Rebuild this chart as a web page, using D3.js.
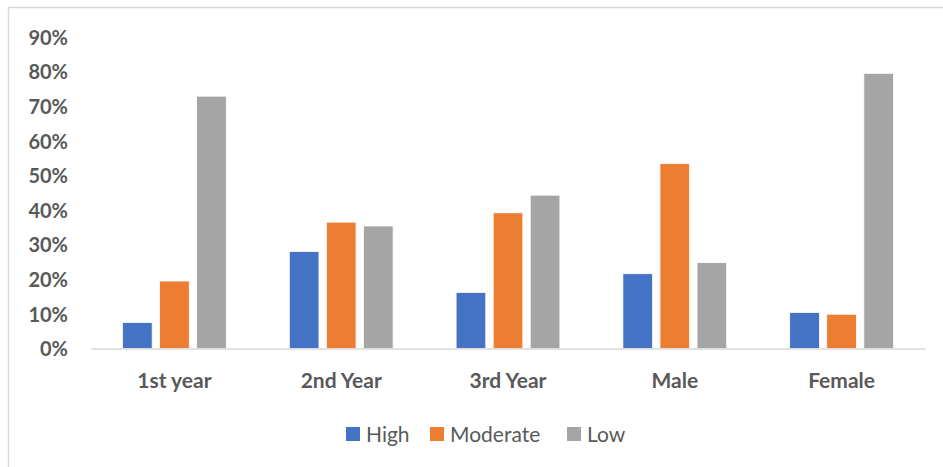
<!DOCTYPE html>
<html>
<head>
<meta charset="utf-8">
<script src="https://cdn.jsdelivr.net/npm/d3@7"></script>
<style>
  html, body { margin: 0; padding: 0; background: #fff; }
  svg { display: block; }
</style>
</head>
<body>
<svg id="chart" width="943" height="467"></svg>
<script>
// Categories, series and values
const categories = ["1st year", "2nd Year", "3rd Year", "Male", "Female"];
const seriesNames = ["High", "Moderate", "Low"];
const highValues = [0.075, 0.28, 0.162, 0.216, 0.104];
const moderateValues = [0.195, 0.365, 0.392, 0.534, 0.099];
const lowValues = [0.729, 0.354, 0.443, 0.248, 0.795];
const yTicks = [0, 0.1, 0.2, 0.3, 0.4, 0.5, 0.6, 0.7, 0.8, 0.9];
const seriesColors = ["#4472C4", "#ED7D31", "#A5A5A5"];

const seriesValues = [highValues, moderateValues, lowValues];
const rows = categories.map((c, i) => ({
  category: c,
  values: seriesNames.map((s, j) => ({ series: s, value: seriesValues[j][i] }))
}));

const svg = d3.select("#chart");
const W = 943, H = 467;
const plotLeft = 91, plotRight = 925, plotTop = 37, plotBottom = 348.5;

// Chart frame (top and left edges)
svg.append("path")
  .attr("d", `M8.5,${H} L8.5,7.5 L${W},7.5`)
  .attr("fill", "none")
  .attr("stroke", "#d9d9d9")
  .attr("stroke-width", 1.5);

const x0 = d3.scaleBand().domain(categories).range([plotLeft, plotRight]).paddingInner(0).paddingOuter(0);
const x1 = d3.scaleBand().domain(seriesNames).range([0, x0.bandwidth()]).paddingInner(0.2).paddingOuter(0.85);
const y = d3.scaleLinear().domain([0, 0.9]).range([plotBottom, plotTop]);

const fontFamily = "Lato, 'Open Sans', sans-serif";
const textColor = "#595959";

// Y axis labels only
const yAxis = d3.axisLeft(y).tickValues(yTicks).tickFormat(d3.format(".0%")).tickSize(0).tickPadding(0);
const yg = svg.append("g").attr("transform", `translate(68,0)`).call(yAxis);
yg.select(".domain").remove();
yg.selectAll("text")
  .attr("font-family", fontFamily)
  .attr("font-weight", "bold")
  .attr("font-size", 20)
  .attr("fill", textColor)
  .attr("dy", "0.36em");

// Bars
const groups = svg.append("g").selectAll("g")
  .data(rows)
  .join("g")
  .attr("transform", d => `translate(${x0(d.category)},0)`);

groups.selectAll("rect")
  .data(d => d.values)
  .join("rect")
  .attr("x", d => x1(d.series))
  .attr("width", x1.bandwidth())
  .attr("y", d => y(d.value))
  .attr("height", d => y(0) - y(d.value))
  .attr("fill", (d, i) => seriesColors[i])
  .attr("stroke", "#ffffff")
  .attr("stroke-width", 0.75);

// X axis baseline and category labels
const xAxis = d3.axisBottom(x0).tickSize(0).tickPadding(0);
const xg = svg.append("g").attr("transform", `translate(0,${plotBottom})`).call(xAxis);
xg.select(".domain")
  .attr("stroke", "#d9d9d9")
  .attr("stroke-width", 1.5);
xg.selectAll("text")
  .attr("font-family", fontFamily)
  .attr("font-weight", "bold")
  .attr("font-size", 21)
  .attr("fill", textColor)
  .attr("dy", 0)
  .attr("y", 39);

// Legend
const legendItems = [
  { name: "High", x: 346 },
  { name: "Moderate", x: 430 },
  { name: "Low", x: 567 }
];
const legend = svg.append("g").selectAll("g")
  .data(legendItems)
  .join("g")
  .attr("transform", d => `translate(${d.x},427)`);
legend.append("rect")
  .attr("width", 14)
  .attr("height", 14)
  .attr("fill", (d, i) => seriesColors[i]);
legend.append("text")
  .attr("x", 20)
  .attr("y", 7)
  .attr("dy", "0.36em")
  .attr("font-family", fontFamily)
  .attr("font-size", 21)
  .attr("fill", textColor)
  .text(d => d.name);
</script>
</body>
</html>
